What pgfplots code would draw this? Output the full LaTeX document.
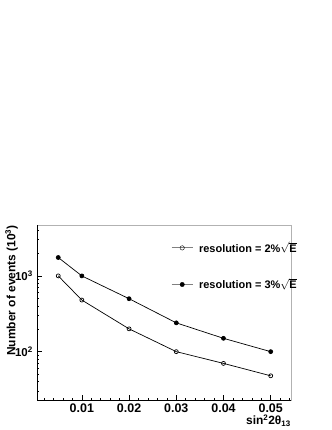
\documentclass[border=0pt]{standalone}
\usepackage{fontspec}
\setmainfont{Liberation Sans}
\usepackage{pgfplots}
\pgfplotsset{compat=1.18}
\begin{document}
\begin{tikzpicture}[x=1bp,y=1bp]
\path[use as bounding box] (0,0) rectangle (332,430);
\begin{axis}[
  at={(37bp,30bp)}, anchor=south west,
  scale only axis, width=254bp, height=175bp,
  ymode=log, xmin=0.0005, xmax=0.0543, ymin=23, ymax=4700,
  scaled x ticks=false,
  xtick={0.01,0.02,0.03,0.04,0.05},
  xticklabels={0.01,0.02,0.03,0.04,0.05},
  minor xtick={0.002,0.004,0.006,0.008,0.012,0.014,0.016,0.018,0.022,0.024,0.026,0.028,0.032,0.034,0.036,0.038,0.042,0.044,0.046,0.048,0.052,0.054},
  ytick={100,1000}, yticklabels={10\textsuperscript{2},10\textsuperscript{3}},
  minor ytick={30,40,50,60,70,80,90,200,300,400,500,600,700,800,900,2000,3000,4000},
  xtick pos=bottom, ytick pos=left, tick align=inside,
  major tick length=5bp, minor tick length=2.5bp,
  tick style={black, line width=0.6bp},
  axis line style={gray!60, line width=0.8bp},
  xticklabel style={font=\bfseries\fontsize{12.5}{13}\selectfont},
  yticklabel style={font=\bfseries\fontsize{11.5}{12}\selectfont, inner xsep=1bp, xshift=-3bp},
  /pgf/number format/assume math mode=true,
  clip=false,
  legend style={draw=none, fill=none, at={(rel axis cs:0.528,0.915)}, anchor=north west,
    font=\bfseries\fontsize{11}{12}\selectfont, row sep=21bp, inner sep=0pt, cells={anchor=west}},
  legend image code/.code={
    \draw[gray, line width=0.8bp] (0bp,0bp) -- (21bp,0bp);
    \draw[#1] plot coordinates {(10.5bp,0bp)};
  },
]
\addplot[black, line width=0.7bp, mark=o, mark size=2bp, mark options={solid, black, fill=white}, forget plot]
  coordinates {(0.005,1000) (0.01,480) (0.02,200) (0.03,100) (0.04,70) (0.05,48)};
\addplot[black, line width=0.7bp, mark=*, mark size=2bp, mark options={solid, black}, forget plot]
  coordinates {(0.005,1750) (0.01,1000) (0.02,500) (0.03,240) (0.04,150) (0.05,100)};
\addlegendimage{black, mark=o, mark size=2.2bp, mark options={black, fill=white}}
\addlegendentry{\hspace{4bp}resolution = 2\%$\sqrt{\textbf{E}}$}
\addlegendimage{black, mark=*, mark size=2.2bp, mark options={black}}
\addlegendentry{\hspace{4bp}resolution = 3\%$\sqrt{\textbf{E}}$}
\draw[black, line width=0.8bp] (rel axis cs:0,1) -- (rel axis cs:0,0) -- (rel axis cs:1,0);
\node[anchor=base east, inner sep=0pt, font=\bfseries\fontsize{12}{14}\selectfont] at ([yshift=-25bp]rel axis cs:1,0) {sin\textsuperscript{2}2θ\textsubscript{13}};
\node[anchor=south east, rotate=90, inner sep=0pt, font=\bfseries\fontsize{12}{14}\selectfont] at ([xshift=-19bp]rel axis cs:0,1) {Number of events (10\textsuperscript{3})};
\end{axis}
\end{tikzpicture}
\end{document}
